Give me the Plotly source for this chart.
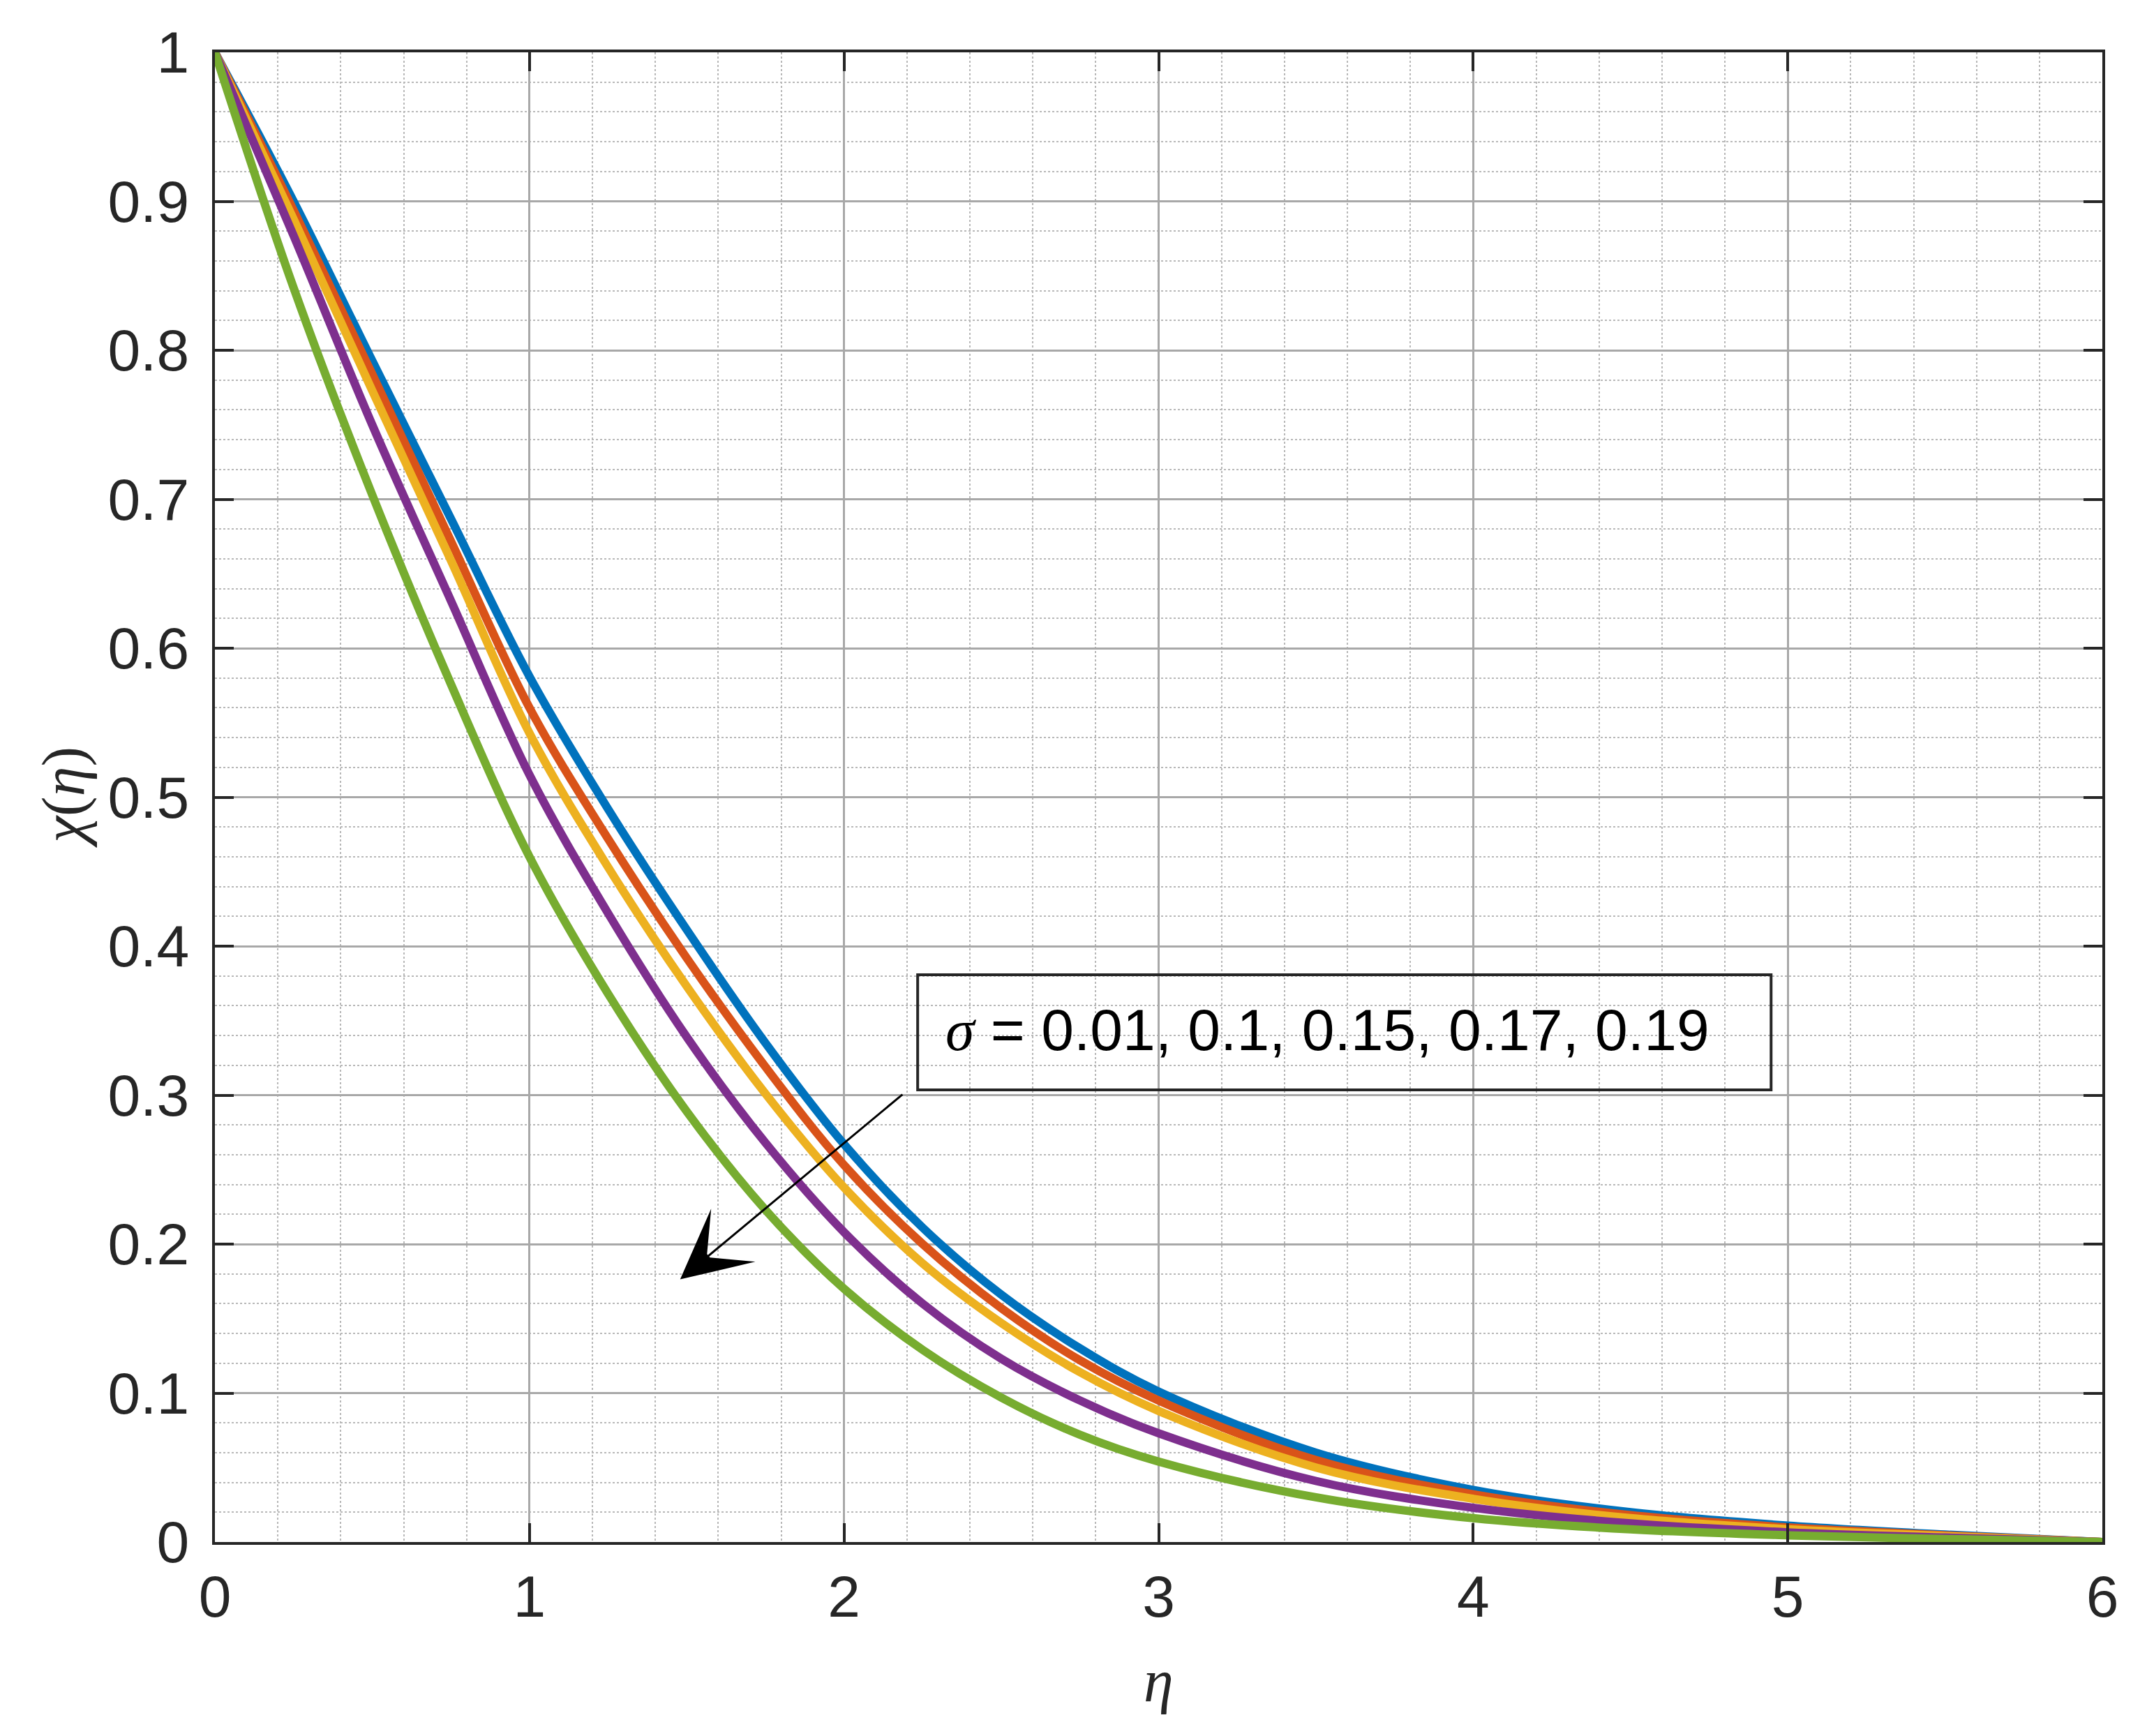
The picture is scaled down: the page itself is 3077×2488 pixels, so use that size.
import plotly.graph_objects as go

eta = [0, 0.25, 0.5, 0.75, 1.0, 1.25, 1.5, 1.75, 2.0, 2.25, 2.5, 2.75, 3.0, 3.5, 4.0, 4.5, 5.0, 5.5, 6.0]

chi_s001 = [1.0, 0.900, 0.793, 0.687, 0.581, 0.492, 0.411, 0.335, 0.267, 0.211, 0.166, 0.130, 0.101, 0.060, 0.035, 0.020, 0.011, 0.005, 0.0]
chi_s010 = [1.0, 0.894, 0.784, 0.672, 0.560, 0.472, 0.392, 0.319, 0.253, 0.200, 0.157, 0.122, 0.095, 0.055, 0.032, 0.018, 0.0098, 0.0045, 0.0]
chi_s015 = [1.0, 0.888, 0.773, 0.659, 0.543, 0.453, 0.373, 0.301, 0.238, 0.187, 0.147, 0.114, 0.088, 0.050, 0.029, 0.016, 0.0086, 0.004, 0.0]
chi_s017 = [1.0, 0.877, 0.750, 0.632, 0.515, 0.422, 0.339, 0.268, 0.208, 0.160, 0.123, 0.095, 0.073, 0.041, 0.023, 0.0125, 0.0065, 0.003, 0.0]
chi_s019 = [1.0, 0.842, 0.703, 0.576, 0.460, 0.368, 0.289, 0.223, 0.170, 0.129, 0.097, 0.072, 0.054, 0.030, 0.016, 0.0085, 0.0045, 0.002, 0.0]

series = [chi_s001, chi_s010, chi_s015, chi_s017, chi_s019]
names = ["σ = 0.01", "σ = 0.1", "σ = 0.15", "σ = 0.17", "σ = 0.19"]
colors = ["#0072BD", "#D95319", "#EDB120", "#7E2F8E", "#77AC30"]

x_ticks = [0, 1, 2, 3, 4, 5, 6]
y_ticks = [0, 0.1, 0.2, 0.3, 0.4, 0.5, 0.6, 0.7, 0.8, 0.9, 1]
y_ticklabels = ["0", "0.1", "0.2", "0.3", "0.4", "0.5", "0.6", "0.7", "0.8", "0.9", "1"]

fig = go.Figure()
for ys, nm, c in zip(series, names, colors):
    fig.add_trace(go.Scatter(x=eta, y=ys, mode="lines", name=nm,
                             line=dict(color=c, width=12, shape="spline", smoothing=1.0)))

axis_common = dict(
    showline=True, linecolor="#262626", linewidth=4, mirror="ticks",
    ticks="inside", ticklen=27, tickwidth=4, tickcolor="#262626",
    showgrid=True, gridcolor="#a8a8a8", gridwidth=3,
    zeroline=False,
    tickfont=dict(family="Liberation Sans, Arial, sans-serif", size=84, color="#262626"),
)

fig.update_xaxes(range=[0, 6], tickvals=x_ticks, ticktext=[str(v) for v in x_ticks],
                 minor=dict(dtick=0.2, showgrid=True, gridcolor="#b8b8b8", gridwidth=2, griddash="dot"),
                 ticklabelstandoff=2, **axis_common)
fig.update_yaxes(range=[0, 1], tickvals=y_ticks, ticktext=y_ticklabels,
                 minor=dict(dtick=0.02, showgrid=True, gridcolor="#b8b8b8", gridwidth=2, griddash="dot"),
                 ticklabelstandoff=16, **axis_common)

# axis titles
fig.add_annotation(xref="paper", yref="paper", x=-0.0805, y=0.5, xanchor="center", yanchor="middle",
                   text="<i>χ</i>(<i>η</i>)", textangle=-90, showarrow=False,
                   font=dict(family="Liberation Serif, Times New Roman, serif", size=86, color="#262626"))
fig.add_annotation(xref="paper", yref="paper", x=0.5, y=-0.093, xanchor="center", yanchor="middle",
                   text="<i>η</i>", showarrow=False,
                   font=dict(family="Liberation Serif, Times New Roman, serif", size=86, color="#262626"))

# label box
fig.add_shape(type="rect", xref="x", yref="y", x0=2.234, x1=4.947, y0=0.3035, y1=0.3808,
              line=dict(color="#262626", width=4), fillcolor="rgba(0,0,0,0)", layer="above")
fig.add_annotation(xref="x", yref="y", x=3.537, y=0.3438, xanchor="center", yanchor="middle",
                   text='<span style="font-family:Liberation Serif"><i>σ</i></span> = 0.01, 0.1, 0.15, 0.17, 0.19',
                   showarrow=False,
                   font=dict(family="Liberation Sans, Arial, sans-serif", size=84, color="#000000"))

# arrow
fig.add_annotation(xref="x", yref="y", axref="x", ayref="y",
                   x=1.479, y=0.1763, ax=2.189, ay=0.301, text="",
                   showarrow=True, arrowhead=3, arrowsize=5.5, arrowwidth=3, arrowcolor="#000000",
                   standoff=0, startstandoff=0)

fig.update_layout(
    width=3077, height=2488, autosize=False,
    margin=dict(l=300, r=72, t=67, b=286),
    plot_bgcolor="white", paper_bgcolor="white",
    showlegend=False,
)

fig.write_html("out.html")
